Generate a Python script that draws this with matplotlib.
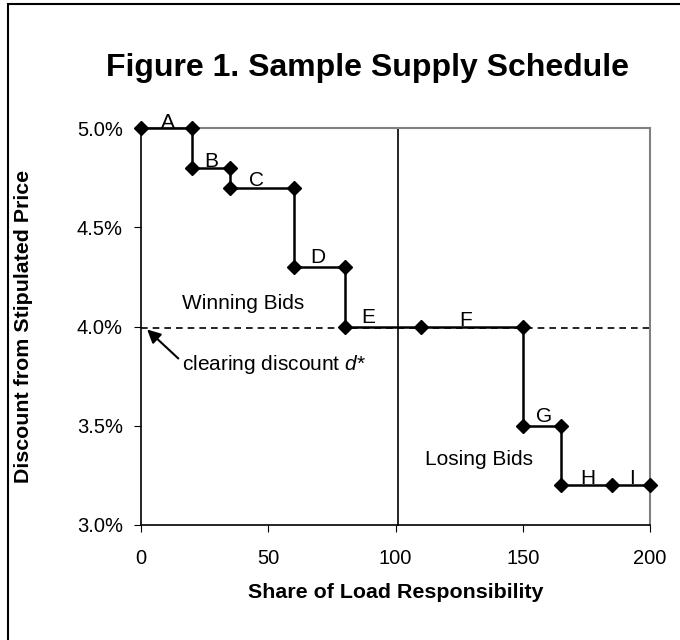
import matplotlib.pyplot as plt
from matplotlib.patches import Rectangle
from matplotlib.ticker import FuncFormatter

plt.rcParams['font.family'] = ['Liberation Sans', 'DejaVu Sans']
plt.rcParams['mathtext.fontset'] = 'custom'
plt.rcParams['mathtext.rm'] = 'Liberation Sans'
plt.rcParams['mathtext.it'] = 'Liberation Sans:italic'

# supply schedule points (share, discount %)
share = [0, 20, 20, 35, 35, 60, 60, 80, 80, 110, 150, 150, 165, 165, 185, 200]
discount = [5.0, 5.0, 4.8, 4.8, 4.7, 4.7, 4.3, 4.3, 4.0, 4.0, 4.0, 3.5, 3.5, 3.2, 3.2, 3.2]

bid_labels = ['A', 'B', 'C', 'D', 'E', 'F', 'G', 'H', 'I']
label_x = [10.4, 27.7, 45.4, 69.4, 89.4, 127.7, 158.5, 175.6, 192.8]
label_y = [5.0, 4.805, 4.71, 4.32, 4.02, 4.005, 3.52, 3.205, 3.205]

clearing = 3.99
load = 101

fig = plt.figure(figsize=(6.8, 6.4), dpi=100)
ax = fig.add_axes([141 / 680, 1 - 525 / 640, 509 / 680, 397 / 640])

fig.patches.append(Rectangle((7.5 / 680, -0.1), 1.2, 1 - 4 / 640 + 0.1,
                             transform=fig.transFigure, fill=False,
                             edgecolor='black', linewidth=1.5))

ax.plot([0, 200], [clearing, clearing], color='black', linestyle=(0, (4, 3)), linewidth=1.2)
ax.axvline(load, color='black', linewidth=1.2)
ax.plot(share, discount, color='black', linewidth=1.8, marker='D', markersize=7.5, zorder=3)

for lab, x, y in zip(bid_labels, label_x, label_y):
    ax.text(x, y, lab, fontsize=15, ha='center', va='baseline')

ax.text(40.3, 4.115, 'Winning Bids', fontsize=15, ha='center', va='center')
ax.text(133, 3.33, 'Losing Bids', fontsize=15, ha='center', va='center')
ax.annotate('clearing discount $\\it{d}$*', xy=(2.4, 3.985), xytext=(16.1, 3.81),
            fontsize=15, va='center', ha='left',
            arrowprops=dict(arrowstyle='-|>', color='black', lw=1.5,
                            mutation_scale=20, shrinkA=0, shrinkB=0,
                            relpos=(-0.02, 0.75)))

ax.set_xlim(0, 200)
ax.set_ylim(3.0, 5.0)
ax.set_xticks([0, 50, 100, 150, 200])
ax.set_yticks([3.0, 3.5, 4.0, 4.5, 5.0])
ax.yaxis.set_major_formatter(FuncFormatter(lambda v, p: f'{v:.1f}%'))
ax.tick_params(direction='out', length=5, labelsize=14.5, pad=8)
ax.tick_params(axis='x', pad=12)

for s in ['top', 'right']:
    ax.spines[s].set_color('#808080')
    ax.spines[s].set_linewidth(1.5)
for s in ['left', 'bottom']:
    ax.spines[s].set_linewidth(1.2)

ax.set_xlabel('Share of Load Responsibility', fontsize=15.4, fontweight='bold', labelpad=11)
ax.set_ylabel('Discount from Stipulated Price', fontsize=15.4, fontweight='bold', va='center')
ax.yaxis.set_label_coords(-0.23, 0.5)
fig.text(367 / 680, 1 - 68 / 640, 'Figure 1. Sample Supply Schedule', fontsize=23,
         fontweight='bold', ha='center', va='center')

for line in ax.lines:
    line.set_clip_on(False)

fig.savefig('out.png', dpi=100)
